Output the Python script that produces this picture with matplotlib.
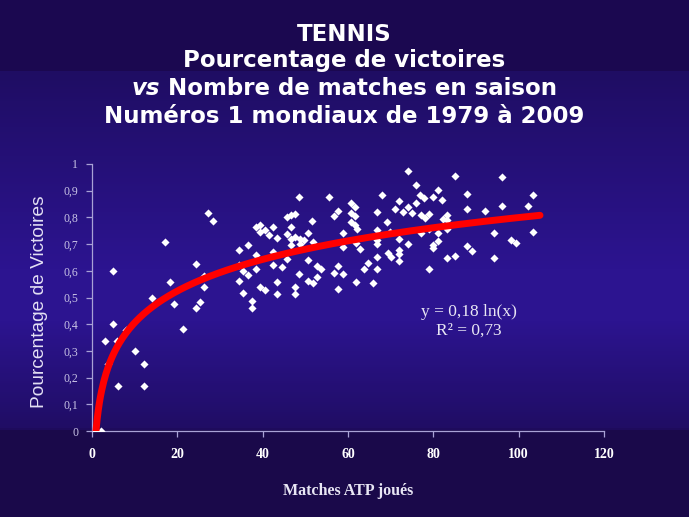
import numpy as np
import matplotlib
matplotlib.use("Agg")
import matplotlib.pyplot as plt
from matplotlib.colors import LinearSegmentedColormap

# matches played in the season (x) and share of wins (y)
matches = [
    1, 2, 5.0, 3.0, 5.0, 5.9, 7.9, 3.8, 6.1, 10.1, 12.2, 12.2, 14.1, 17.2, 18.2,
    19.2, 21.3, 24.3, 26.2, 26.2, 25.3, 24.3, 27.3, 28.3, 34.4, 36.5, 34.4, 35.5,
    37.5, 37.5, 34.4, 35.5, 36.5, 38.4, 38.4, 38.4, 39.4, 39.4, 40.5, 41.5, 39.4,
    40.5,
    48.6, 55.6, 67.9, 60.7, 61.6, 57.7, 56.7, 66.8, 45.6, 46.6, 47.6, 51.6, 60.7,
    61.6, 60.7, 61.6, 62.0, 42.5, 46.6, 45.6, 47.6, 46.6, 48.7, 49.7, 50.7, 51.7,
    43.4, 58.8, 66.8, 66.8, 66.8, 61.9, 46.6, 48.7, 58.8, 62.8, 42.5, 45.6, 50.7,
    66.8, 42.5, 44.6, 52.7, 53.7, 64.8, 63.8, 66.8, 57.7, 56.7, 58.8, 48.6, 52.7,
    43.4, 50.7, 51.7, 61.9, 65.8, 47.6, 47.6, 43.4, 57.7,
    74.0, 85.1, 96.2, 75.9, 81.0, 76.9, 77.9, 80.0, 82.1, 88.0, 71.9, 75.9, 96.2,
    71.0, 73.0, 74.0, 74.9, 88.0, 92.1, 77.0, 78.0, 79.0, 83.1, 82.3, 83.1, 69.1,
    69.8, 79.0, 81.2, 83.1, 77.1, 94.3, 71.9, 81.0, 74.0, 80.0, 80.0, 88.0, 89.1,
    71.9, 71.9, 69.4, 70.1, 71.9, 83.1, 85.1, 94.3, 79.0,
    103.4, 102.3, 103.4, 98.2, 99.3,
]
win_pct = [
    0, 0, 0.60, 0.336, 0.40, 0.336, 0.378, 0.25, 0.168, 0.30, 0.25, 0.168, 0.50,
    0.708, 0.558, 0.476, 0.382, 0.627, 0.58, 0.54, 0.482, 0.46, 0.818, 0.786,
    0.678, 0.697, 0.56, 0.516, 0.488, 0.46, 0.62, 0.60, 0.585, 0.66, 0.607, 0.765,
    0.771, 0.746, 0.753, 0.734, 0.54, 0.528,
    0.877, 0.875, 0.883, 0.853, 0.840, 0.825, 0.805, 0.819, 0.803, 0.808, 0.812,
    0.785, 0.815, 0.805, 0.784, 0.772, 0.755, 0.763, 0.763, 0.738, 0.728, 0.718,
    0.718, 0.715, 0.743, 0.709, 0.722, 0.743, 0.753, 0.715, 0.699, 0.705, 0.697,
    0.70, 0.690, 0.68, 0.672, 0.644, 0.64, 0.65, 0.622, 0.613, 0.618, 0.606, 0.628,
    0.606, 0.607, 0.618, 0.59, 0.587, 0.587, 0.576, 0.559, 0.562, 0.553, 0.559,
    0.555, 0.538, 0.512, 0.513, 0.531,
    0.974, 0.955, 0.95, 0.921, 0.903, 0.884, 0.871, 0.875, 0.865, 0.886, 0.86,
    0.855, 0.844, 0.83, 0.822, 0.838, 0.815, 0.83, 0.825, 0.809, 0.797, 0.812,
    0.809, 0.793, 0.79, 0.784, 0.746, 0.755, 0.743, 0.757, 0.74, 0.743, 0.719,
    0.713, 0.70, 0.697, 0.684, 0.693, 0.674, 0.678, 0.662, 0.666, 0.651, 0.637,
    0.649, 0.655, 0.647, 0.606,
    0.884, 0.843, 0.746, 0.715, 0.705,
]

# log trendline as drawn on the chart
trend_a = 0.171
trend_b = 0.012
trend_xmax = 105

x_ticks = [0, 20, 40, 60, 80, 100, 120]
y_ticks = [0, 0.1, 0.2, 0.3, 0.4, 0.5, 0.6, 0.7, 0.8, 0.9, 1]
y_tick_labels = ["0", "0,1", "0,2", "0,3", "0,4", "0,5", "0,6", "0,7", "0,8", "0,9", "1"]

title_lines = ["TENNIS", "Pourcentage de victoires", "Nombre de matches en saison",
               "Numéros 1 mondiaux de 1979 à 2009"]

W, H = 689, 517
fig = plt.figure(figsize=(W / 100, H / 100), dpi=100)

# slide background: dark at top and bottom, brighter blue in the middle
bg = fig.add_axes([0, 0, 1, 1])
bg.axis("off")
cmap = LinearSegmentedColormap.from_list("slide", [
    (0.0, "#1b0850"), (0.134, "#1b0850"), (0.136, "#1f0d63"),
    (0.52, "#2c1490"), (0.62, "#2c1490"), (0.83, "#200d64"),
    (0.835, "#1a094a"), (1.0, "#1a094a")])
grad = np.linspace(0, 1, H).reshape(-1, 1)
bg.imshow(grad, aspect="auto", cmap=cmap, extent=[0, 1, 0, 1], origin="upper")

ax = fig.add_axes([92 / W, 86 / H, 512 / W, 267 / H])
ax.set_facecolor("none")
ax.scatter(matches, win_pct, marker="D", s=17, color="white", linewidths=0, zorder=3)

xs = np.linspace(np.exp(-trend_b / trend_a), trend_xmax, 400)
ax.plot(xs, trend_a * np.log(xs) + trend_b, color="#ff0000", lw=5, zorder=4,
        solid_capstyle="round")

ax.set_xlim(0, 120)
ax.set_ylim(0, 1)
ax.set_xticks(x_ticks)
ax.set_yticks(y_ticks)
ax.set_yticklabels(y_tick_labels)
for s in ["top", "right"]:
    ax.spines[s].set_visible(False)
for s in ["left", "bottom"]:
    ax.spines[s].set_color("#a9a2d6")
    ax.spines[s].set_linewidth(0.9)
ax.tick_params(colors="#a9a2d6", length=4, width=0.9)
ax.tick_params(axis="y", labelcolor="#c9c4e6", labelsize=8.5, pad=6)
ax.tick_params(axis="x", labelcolor="white", labelsize=10, pad=8)
for lab in ax.get_yticklabels():
    lab.set_family("Liberation Serif")
for lab in ax.get_xticklabels():
    lab.set_family("Liberation Serif")
    lab.set_fontweight("bold")

fig.text(348 / W, 1 - 491 / H, "Matches ATP joués", ha="center", va="center",
         family="Liberation Serif", weight="bold", color="#e8e6f4", fontsize=11.5)
fig.text(40 / W, 1 - 302 / H, "Pourcentage de Victoires", rotation=90,
         ha="center", va="center", family="Liberation Sans", color="#e4e0f4",
         fontsize=13.8)

ax.text(0.736, 0.447, "y = 0,18 ln(x)", transform=ax.transAxes, ha="center",
        va="center", family="Liberation Serif", color="#e8e6f4", fontsize=12.5)
ax.text(0.736, 0.375, "R² = 0,73", transform=ax.transAxes, ha="center",
        va="center", family="Liberation Serif", color="#e8e6f4", fontsize=12.5)

# four-line title, "vs" in italics on the third line
tprops = dict(family="DejaVu Sans", weight="bold", color="white", fontsize=16.5,
              va="baseline")
fig.text(0.5, 1 - 40.7 / H, title_lines[0], ha="center", **tprops)
fig.text(0.5, 1 - 67 / H, title_lines[1], ha="center", **tprops)
fig.text(0.5, 1 - 123.3 / H, title_lines[3], ha="center", **tprops)
r = fig.canvas.get_renderer()
t_vs = fig.text(0, 1 - 95 / H, "vs", style="italic", ha="left", **tprops)
t_rest = fig.text(0, 1 - 95 / H, " " + title_lines[2], ha="left", **tprops)
w_vs = t_vs.get_window_extent(r).width
w_rest = t_rest.get_window_extent(r).width
x0 = (W - w_vs - w_rest) / 2
t_vs.set_x(x0 / W)
t_rest.set_x((x0 + w_vs) / W)

fig.savefig("out.png", dpi=100)
